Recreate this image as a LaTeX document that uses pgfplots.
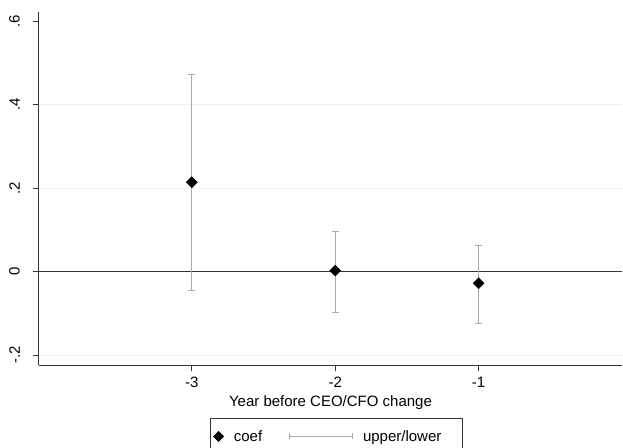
\documentclass[border=0pt]{standalone}
\usepackage{pgfplots}
\pgfplotsset{compat=1.18}
\usepackage{fontspec}
\setmainfont{Liberation Sans}
\definecolor{cigray}{HTML}{AAAAAA}
\definecolor{gridc}{HTML}{EFEFEF}
\definecolor{axc}{HTML}{333333}
\begin{document}
\begin{tikzpicture}[x=1pt,y=1pt]
\useasboundingbox (0,0) rectangle (623,447);
\begin{axis}[
  at={(39pt,82pt)}, anchor=south west,
  scale only axis, width=583pt, height=353pt,
  xmin=-4.066, xmax=0, ymin=-0.224, ymax=0.6216,
  axis x line=bottom, axis y line=left,
  axis line style={-, draw=axc, line width=1pt},
  tick align=outside, major tick length=6pt,
  tick style={draw=axc, line width=0.8pt},
  xtick={-3,-2,-1}, xticklabels={-3,-2,-1},
  ytick={-0.2,0,0.2,0.4,0.6}, yticklabels={-.2,0,.2,.4,.6},
  extra y ticks={-0.2,0.2,0.4},
  extra y tick labels={},
  extra y tick style={ymajorgrids=true, major tick length=0pt, major grid style={draw=gridc, line width=0.8pt}},
  yticklabel style={rotate=90, anchor=south, inner sep=2pt},
  xticklabel style={inner sep=2pt},
  xticklabel shift=4pt,
  yticklabel shift=11pt,
  ticklabel style={font=\fontsize{15}{18}\selectfont},
  xlabel={Year before CEO/CFO change},
  xlabel style={font=\fontsize{15}{18}\selectfont, inner sep=0pt, yshift=-6pt},
  clip=false,
  legend columns=2,
  legend style={at={(0.2933,-0.1501)}, anchor=north west, draw=axc, line width=0.6pt,
    font=\fontsize{15}{18}\selectfont, inner xsep=3pt, inner ysep=10pt,
    nodes={inner sep=2pt, anchor=west},
    /tikz/every odd column/.append style={column sep=8pt},
    /tikz/every even column/.append style={column sep=25pt}},
  legend cell align=left,
]
% legend images
\addlegendimage{legend image code/.code={\fill[black] (0pt,0pt) -- (5pt,5pt) -- (10pt,0pt) -- (5pt,-5pt) -- cycle;}}
\addlegendentry{coef}
\addlegendimage{legend image code/.code={\draw[cigray, line width=0.8pt] (0pt,0pt) -- (63pt,0pt); \draw[cigray, line width=0.8pt] (0pt,-3pt) -- (0pt,3pt); \draw[cigray, line width=0.8pt] (63pt,-3pt) -- (63pt,3pt);}}
\addlegendentry{\hbox{upper/lower\kern16pt}}
% zero line
\addplot[axc, line width=1.5pt, forget plot] coordinates {(-4.066,0) (0,0)};
% confidence intervals
\addplot[draw=none, mark=none, forget plot,
  error bars/.cd, y dir=both, y explicit,
  error bar style={cigray, line width=0.8pt},
  error mark options={rotate=90, mark size=3.5pt, cigray, line width=0.8pt}]
  coordinates {
  (-3,0.214) += (0,0.258) -= (0,0.260)
  (-2,0.002) += (0,0.095) -= (0,0.100)
  (-1,-0.028) += (0,0.090) -= (0,0.096)
  };
% coefficients
\addplot[only marks, mark=square*, mark size=3.9pt, mark options={rotate=45, fill=black, draw=black}, forget plot]
  coordinates {(-3,0.214) (-2,0.002) (-1,-0.028)};
\end{axis}
\end{tikzpicture}
\end{document}
